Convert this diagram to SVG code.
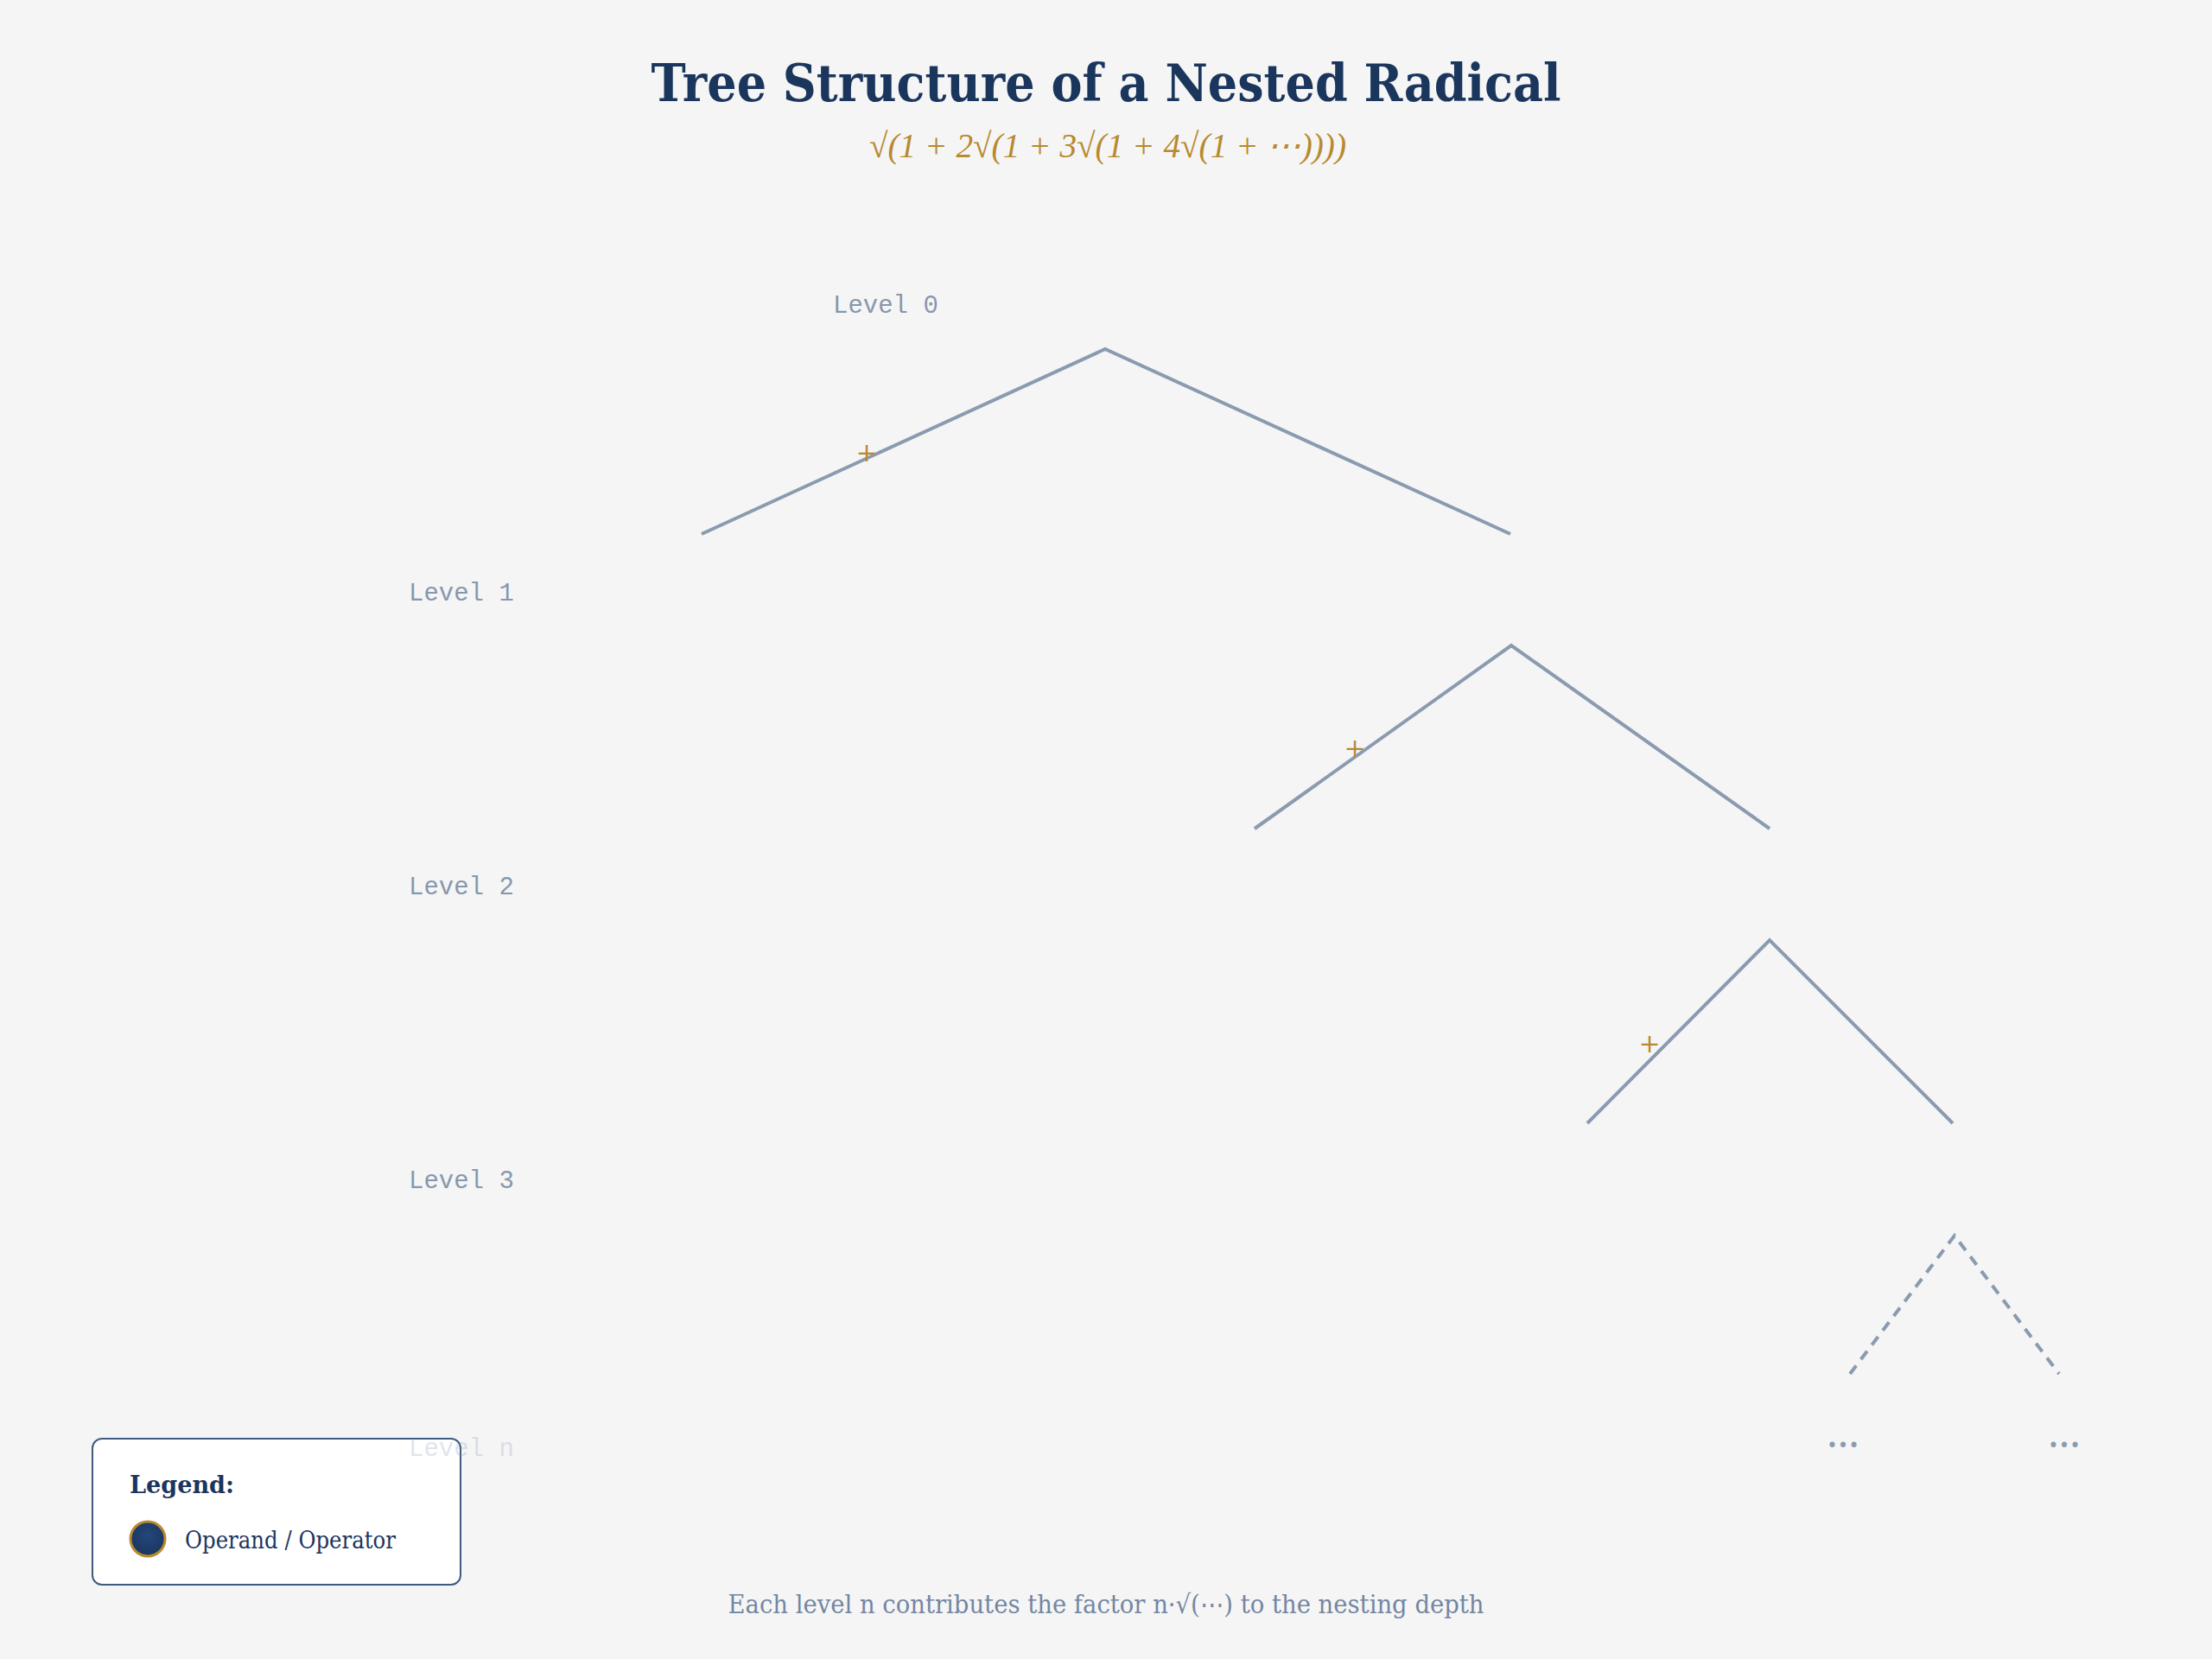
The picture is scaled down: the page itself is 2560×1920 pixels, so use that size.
<svg xmlns="http://www.w3.org/2000/svg" width="2560" height="1920" viewBox="0 0 2560 1920">
<defs>
<radialGradient id="nodeFill" cx="50%" cy="40%" r="60%">
<stop offset="0%" stop-color="#24467a"/>
<stop offset="100%" stop-color="#1a365f"/>
</radialGradient>
<style>
.title{font-family:"DejaVu Serif","Liberation Serif",serif;font-weight:bold;font-size:60px;fill:#1b365d;text-anchor:middle}
.sub{font-family:"Liberation Serif","DejaVu Serif",serif;font-style:italic;font-size:40px;fill:#b8892e;text-anchor:middle}
.lvl{font-family:"Liberation Mono","DejaVu Sans Mono",monospace;font-size:29px;fill:#8797ad}
.edge{fill:none;stroke:#8a9bb0;stroke-width:4;stroke-linecap:butt;stroke-linejoin:miter}
.dash{stroke-dasharray:12 9}
.op{font-family:"DejaVu Serif","Liberation Serif",serif;font-size:30px;fill:#b8892e;text-anchor:middle}
.ell{font-family:"Noto Sans","DejaVu Sans",sans-serif;font-size:48px;fill:#8a9bb0;text-anchor:middle}
.foot{font-family:"DejaVu Serif","Liberation Serif",serif;font-size:30px;fill:#7486a2;text-anchor:middle}
.legtitle{font-family:"DejaVu Serif","Liberation Serif",serif;font-weight:bold;font-size:28px;fill:#1b365d}
.legtext{font-family:"DejaVu Serif","Liberation Serif",serif;font-size:27px;fill:#1b365d}
</style>
</defs>
<rect width="2560" height="1920" fill="#f5f5f5"/>
<g id="title">
<text class="title" x="1280" y="117" textLength="1053" lengthAdjust="spacingAndGlyphs">Tree Structure of a Nested Radical</text>
<text class="sub" x="1282" y="182" textLength="552" lengthAdjust="spacingAndGlyphs">√(1 + 2√(1 + 3√(1 + 4√(1 + ⋯))))</text>
</g>
<g id="legend">
<rect x="107" y="1665" width="426" height="169" rx="11" fill="#ffffff" stroke="#3f5a80" stroke-width="2"/>
<text class="legtitle" x="150" y="1728" textLength="121" lengthAdjust="spacingAndGlyphs">Legend:</text>
<circle cx="171" cy="1781" r="20" fill="url(#nodeFill)" stroke="#b8892e" stroke-width="3"/>
<text class="legtext" x="214" y="1792" textLength="244" lengthAdjust="spacingAndGlyphs">Operand / Operator</text>
</g>
<g id="levels">
<text class="lvl" x="964" y="362">Level 0</text>
<text class="lvl" x="473" y="695">Level 1</text>
<text class="lvl" x="473" y="1035">Level 2</text>
<text class="lvl" x="473" y="1375">Level 3</text>
<text class="lvl" x="473" y="1685" opacity="0.25">Level n</text>
</g>
<g id="connectors">
<polyline class="edge" points="812,618 1279,404 1748,618"/>
<polyline class="edge" points="1452,959 1749,747 2048,959"/>
<polyline class="edge" points="1837,1300 2048,1088 2260,1300"/>
<polyline class="edge dash" points="2141,1590 2262,1430 2383,1590"/>
</g>
<g id="operators">
<text class="op" x="1003" y="534">+</text>
<text class="op" x="1568" y="876">+</text>
<text class="op" x="1909" y="1218">+</text>
</g>
<g id="continuation">
<text class="ell" x="2133" y="1675">…</text>
<text class="ell" x="2389" y="1675">…</text>
</g>
<g id="footer">
<text class="foot" x="1280" y="1867" textLength="875" lengthAdjust="spacingAndGlyphs">Each level n contributes the factor n·√(⋯) to the nesting depth</text>
</g>
</svg>
